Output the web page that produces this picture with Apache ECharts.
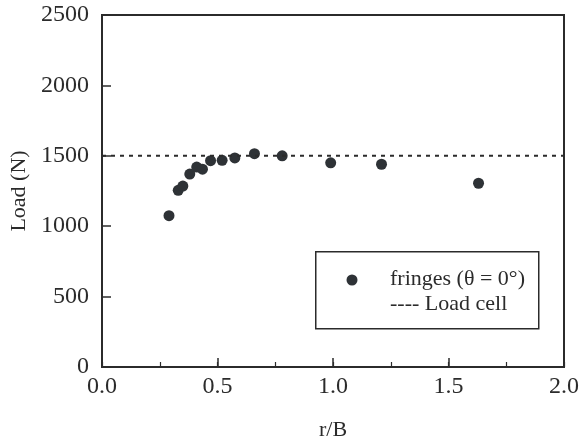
<!DOCTYPE html>
<html><head><meta charset="utf-8">
<script src="https://cdn.jsdelivr.net/npm/echarts@6/dist/echarts.min.js"></script>
<style>html,body{margin:0;padding:0;background:#fff}#c{width:581px;height:444px}</style>
</head><body><div id="c"></div>
<script>
var rB = [0.29, 0.33, 0.35, 0.38, 0.41, 0.435, 0.47, 0.52, 0.575, 0.66, 0.78, 0.99, 1.21, 1.63];
var load = [1075, 1255, 1285, 1370, 1420, 1405, 1465, 1468, 1485, 1515, 1500, 1450, 1440, 1305];
var loadCell = 1500;
var xTicks = [0, 0.5, 1.0, 1.5, 2.0];
var yTicks = [0, 500, 1000, 1500, 2000, 2500];
var seriesName = 'fringes (θ = 0°)';
var lineName = '---- Load cell';

var font = 'Liberation Serif, Times New Roman, serif';
var ink = '#2b2b2b';
var xMin = xTicks[0], xMax = xTicks[xTicks.length-1];
var chart = echarts.init(document.getElementById('c'));
chart.setOption({
  animation: false,
  backgroundColor: '#fff',
  grid: {left: 102, right: 17, top: 15, bottom: 77, show: true, borderColor: ink, borderWidth: 2,
         containLabel: false, outerBoundsMode: 'none'},
  xAxis: [{
    type: 'value', min: xMin, max: xMax, interval: 0.5,
    name: 'r/B', nameLocation: 'middle', nameGap: 52,
    nameTextStyle: {fontFamily: font, fontSize: 22, color: ink},
    axisLine: {lineStyle: {color: ink, width: 2}},
    axisTick: {inside: true, length: 9, lineStyle: {color: ink, width: 1.5}},
    splitLine: {show: false},
    axisLabel: {fontFamily: font, fontSize: 24, color: ink, margin: 8,
      formatter: function (v) { return v.toFixed(1); }}
  }, {
    type: 'value', min: xMin, max: xMax, interval: 0.25, position: 'bottom',
    axisLine: {show: false},
    axisTick: {inside: true, length: 5, lineStyle: {color: ink, width: 1.2}},
    splitLine: {show: false},
    axisLabel: {show: false}
  }],
  yAxis: {
    type: 'value', min: yTicks[0], max: yTicks[yTicks.length-1], interval: 500,
    name: 'Load (N)', nameLocation: 'middle', nameGap: 71,
    nameTextStyle: {fontFamily: font, fontSize: 22, color: ink},
    axisLine: {lineStyle: {color: ink, width: 2}},
    axisTick: {inside: true, length: 9, lineStyle: {color: ink, width: 1.5}},
    splitLine: {show: false},
    axisLabel: {fontFamily: font, fontSize: 24, color: ink, margin: 13,
      formatter: function (v) { return String(v); }}
  },
  series: [
    {
      name: lineName, type: 'line', symbol: 'none',
      data: [[xMin, loadCell], [xMax, loadCell]],
      lineStyle: {color: ink, width: 2, type: [4, 5]}
    },
    {
      name: seriesName, type: 'scatter', symbol: 'circle', symbolSize: 11,
      itemStyle: {color: '#2e3236', opacity: 1},
      data: rB.map(function (x, i) { return [x, load[i]]; })
    }
  ],
  graphic: [
    {type: 'rect', left: 315, top: 251, shape: {width: 223, height: 77},
     style: {fill: '#fff', stroke: ink, lineWidth: 1.5}, z: 10},
    {type: 'circle', shape: {cx: 352, cy: 280, r: 5.5}, style: {fill: '#2e3236'}, z: 11},
    {type: 'text', left: 390, top: 268, z: 11,
     style: {text: seriesName, font: '22px ' + font, fill: ink}},
    {type: 'text', left: 390, top: 293, z: 11,
     style: {text: lineName, font: '22px ' + font, fill: ink}}
  ]
});
</script></body></html>
